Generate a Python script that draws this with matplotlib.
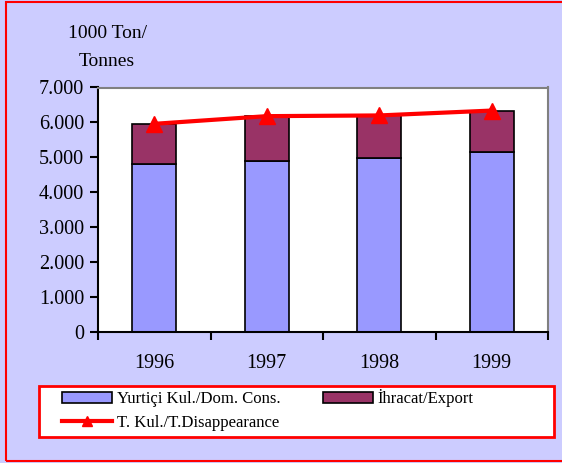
import numpy as np
import matplotlib.pyplot as plt
from matplotlib.patches import Rectangle

years = ['1996', '1997', '1998', '1999']
dom_cons = [4800, 4910, 4980, 5150]
export = [1160, 1270, 1220, 1190]
total = [5960, 6180, 6200, 6340]

plt.rcParams['font.family'] = ['Liberation Serif', 'DejaVu Serif']

fig = plt.figure(figsize=(5.62, 4.63), dpi=100)
fig.patch.set_facecolor('#ccccff')
# outer red frame
fig.patches.append(Rectangle((6 / 562, 2 / 463), 1.2, 459 / 463, transform=fig.transFigure,
                             fill=False, edgecolor='red', linewidth=1.5))
# legend box
fig.patches.append(Rectangle((39 / 562, 1 - 437 / 463), 515 / 562, 51 / 463, transform=fig.transFigure,
                             facecolor='white', edgecolor='red', linewidth=2))

ax = fig.add_axes([98 / 562, 1 - 332 / 463, 450 / 562, 244.5 / 463])
x = np.arange(len(years))
b1 = ax.bar(x, dom_cons, width=0.39, color='#9999ff', edgecolor='black', linewidth=1.2)
b2 = ax.bar(x, export, width=0.39, bottom=dom_cons, color='#993366', edgecolor='black', linewidth=1.2)
ln, = ax.plot(x, total, color='red', linewidth=3, marker='^', markersize=11)

ax.set_xlim(-0.5, 3.5)
ax.set_ylim(0, 7000)
ax.set_yticks(np.arange(0, 7001, 1000))
ax.set_yticklabels(['0', '1.000', '2.000', '3.000', '4.000', '5.000', '6.000', '7.000'], fontsize=14.5)
ax.set_xticks(x)
ax.set_xticklabels(years, fontsize=14.5)
ax.set_xticks(np.arange(-0.5, 3.6, 1), minor=True)
ax.tick_params(axis='x', which='major', length=0, pad=16)
ax.tick_params(axis='x', which='minor', length=6, width=1.5, direction='out')
ax.tick_params(axis='y', length=6, width=1.5, direction='out', pad=4)
for s in ['top', 'right']:
    ax.spines[s].set_color('gray')
    ax.spines[s].set_linewidth(1.5)
for s in ['left', 'bottom']:
    ax.spines[s].set_linewidth(1.5)

fig.text(107 / 562, 1 - 33 / 463, '1000 Ton/', ha='center', va='center', fontsize=14)
fig.text(107 / 562, 1 - 61 / 463, 'Tonnes', ha='center', va='center', fontsize=14)

leg = fig.legend([b1, ln, b2],
                 ['Yurtiçi Kul./Dom. Cons.', 'T. Kul./T.Disappearance', 'İhracat/Export'],
                 ncol=2, loc='upper left', bbox_to_anchor=(59 / 562, 1 - 386 / 463),
                 fontsize=12, frameon=False, markerscale=0.7,
                 handlelength=3.0, handleheight=0.6, handletextpad=0.3,
                 labelspacing=0.45, borderaxespad=0, borderpad=0.2, columnspacing=2.5)

fig.savefig('out.png', dpi=100, facecolor=fig.get_facecolor())
